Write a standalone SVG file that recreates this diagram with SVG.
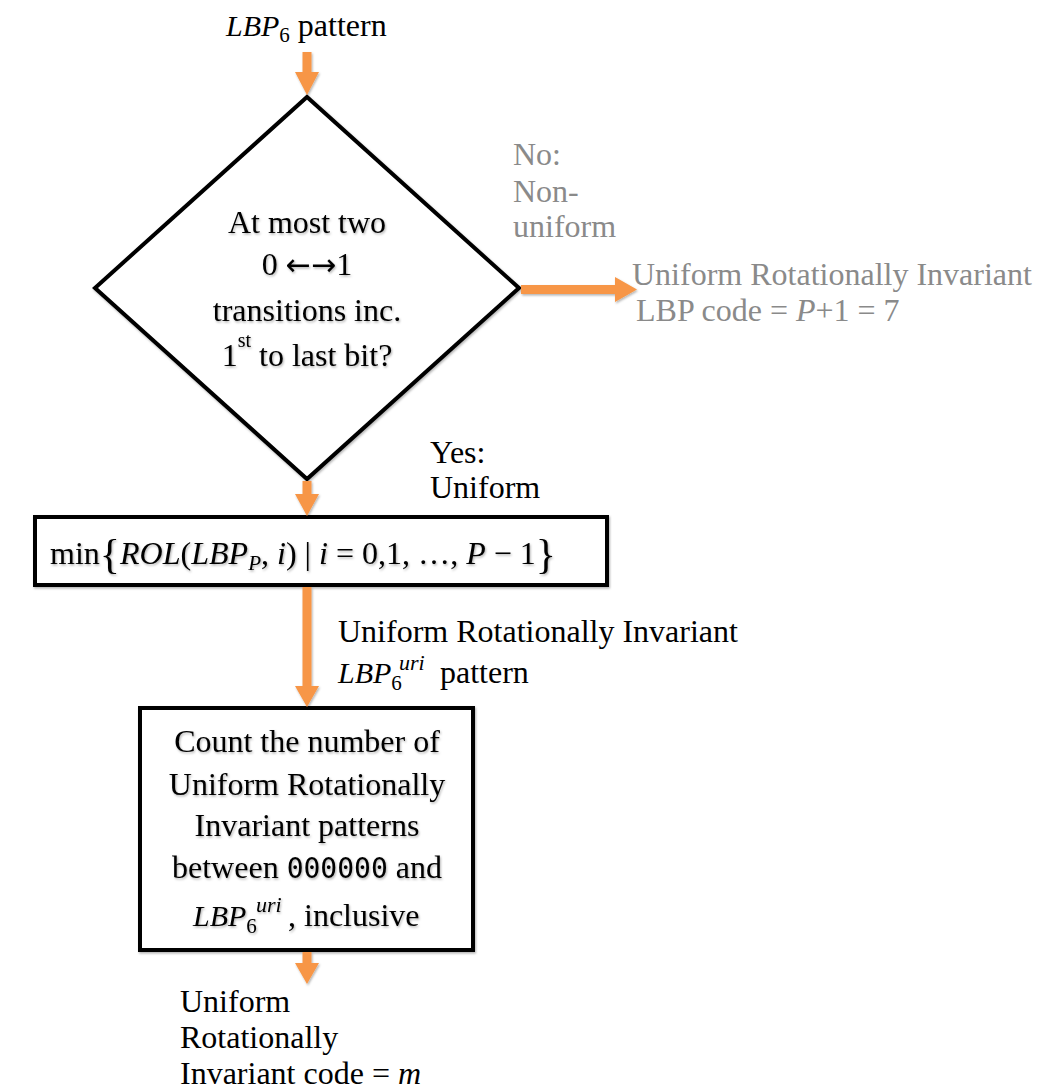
<svg xmlns="http://www.w3.org/2000/svg" width="1054" height="1091" viewBox="0 0 1054 1091">
<style>
text{font-family:"Liberation Serif","Times New Roman",serif;font-size:32px;fill:#000}
.c{text-anchor:middle}
.mi{font-style:italic}
.mono{font-family:"DejaVu Sans Mono","Liberation Mono",monospace;font-size:28px}
.ar{font-family:"DejaVu Sans",sans-serif;font-size:30px}
.gray{fill:#8a8a8a}
.shape{fill:#fff;stroke:#000;stroke-width:4;stroke-linejoin:miter}
.arr{fill:#F79646}
</style>
<defs>
<filter id="sh" x="-10%" y="-10%" width="120%" height="120%">
<feDropShadow dx="1" dy="1.5" stdDeviation="1" flood-color="#000" flood-opacity="0.3"/>
</filter>
</defs>

<g id="start-label">
<text x="226" y="36"><tspan class="mi" font-size="30">LBP</tspan><tspan font-size="21" dy="6">6</tspan><tspan dy="-6"> pattern</tspan></text>
</g>

<g id="decision">
<polygon class="shape" filter="url(#sh)" points="307,97 519,288 307,479 95,288"/>
<g filter="url(#sh)">
<text class="c" x="307" y="233">At most two</text>
<text class="c" x="307" y="275">0 <tspan class="ar">←→</tspan>1</text>
<text class="c" x="307" y="321">transitions inc.</text>
<text class="c" x="307" y="366">1<tspan font-size="20" dy="-19">st</tspan><tspan dy="19"> to last bit?</tspan></text>
</g>
</g>

<g id="no-label">
<text class="gray" x="513" y="165">No:</text>
<text class="gray" x="513" y="202">Non-</text>
<text class="gray" x="513" y="237">uniform</text>
</g>

<g id="nonuniform-result">
<text class="gray" x="632" y="285">Uniform Rotationally Invariant</text>
<text class="gray" x="636" y="321">LBP code = <tspan class="mi">P</tspan>+1 = 7</text>
</g>

<g id="yes-label">
<text x="430" y="463">Yes:</text>
<text x="430" y="498">Uniform</text>
</g>

<g id="min-box">
<rect class="shape" filter="url(#sh)" x="35" y="517" width="572" height="68"/>
<text class="c" x="303" y="564" textLength="506" lengthAdjust="spacing" filter="url(#sh)">min<tspan font-size="42" dy="4">{</tspan><tspan class="mi" dy="-4">ROL</tspan>(<tspan class="mi">LBP</tspan><tspan class="mi" font-size="21" dy="6">P</tspan><tspan dy="-6">, </tspan><tspan class="mi">i</tspan>) | <tspan class="mi">i</tspan> = 0,1, …, <tspan class="mi">P</tspan> − 1<tspan font-size="42" dy="4">}</tspan></text>
</g>

<g id="uri-label">
<text x="338" y="642">Uniform Rotationally Invariant</text>
<text x="338" y="683"><tspan class="mi" font-size="30">LBP</tspan><tspan font-size="21" dy="7">6</tspan><tspan class="mi" font-size="22" x="399" dy="-20">uri</tspan><tspan x="432" dy="13"> pattern</tspan></text>
</g>

<g id="count-box">
<rect class="shape" filter="url(#sh)" x="140" y="708" width="333" height="242"/>
<g filter="url(#sh)">
<text class="c" x="307" y="752">Count the number of</text>
<text class="c" x="307" y="795">Uniform Rotationally</text>
<text class="c" x="307" y="836">Invariant patterns</text>
<text class="c" x="307" y="878">between <tspan class="mono">000000</tspan> and</text>
<text x="193" y="926"><tspan class="mi" font-size="30">LBP</tspan><tspan font-size="21" dy="7">6</tspan><tspan class="mi" font-size="22" x="256" dy="-21">uri</tspan><tspan x="288" dy="14">, inclusive</tspan></text>
</g>
</g>

<g id="end-label">
<text x="180" y="1012">Uniform</text>
<text x="180" y="1048">Rotationally</text>
<text x="180" y="1084">Invariant code = <tspan class="mi">m</tspan></text>
</g>

<g id="connectors" filter="url(#sh)">
<path class="arr" d="M302.5,52 H311.5 V72 H319 L307,95 L295,72 H302.5 Z"/>
<path class="arr" d="M521,285 H615 V277 L637,289.5 L615,302 V294 H521 Z"/>
<path class="arr" d="M302.5,481 H311.5 V494 H319 L307,516 L295,494 H302.5 Z"/>
<path class="arr" d="M302.5,587 H311.5 V686 H319 L307,707 L295,686 H302.5 Z"/>
<path class="arr" d="M302.5,952 H311.5 V963 H319 L307,984 L295,963 H302.5 Z"/>
</g>
</svg>
